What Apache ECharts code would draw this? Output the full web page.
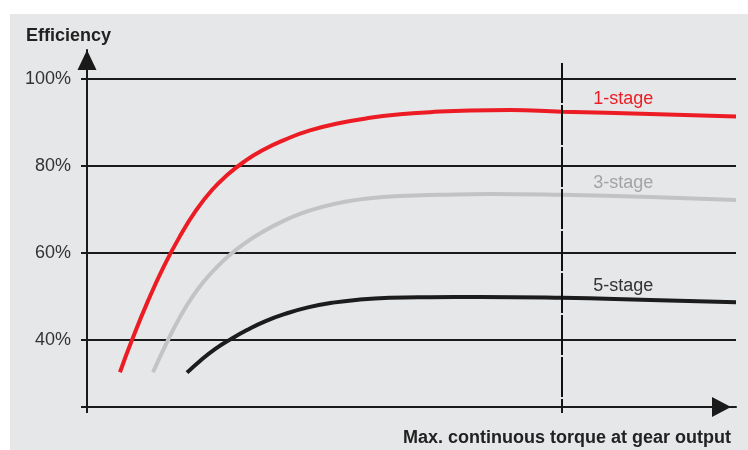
<!DOCTYPE html>
<html><head><meta charset="utf-8">
<script src="https://cdn.jsdelivr.net/npm/echarts@6/dist/echarts.min.js"></script>
<style>
html,body{margin:0;padding:0;background:#fff;}
#wrap{position:relative;width:748px;height:450px;overflow:hidden;}
#panel{position:absolute;left:10px;top:14px;width:738px;height:436px;background:#e6e7e9;}
#chart{position:absolute;left:0;top:0;width:748px;height:450px;}
</style></head><body>
<div id="wrap"><div id="panel"></div><div id="chart"></div></div>
<script>
// ---- data ----
const yTickValues = [40, 60, 80, 100];
const yMin = 24.6, yMax = 106.7;
const xMin = 0, xMax = 100;
const ratedTorque = 73.2;          // vertical reference line
const ratedTop = 103.7;
const seriesNames = ['1-stage', '3-stage', '5-stage'];
const stage1 = [[5.08,32.6],[6.93,40.0],[9.40,49.0],[11.86,57.0],[14.33,63.9],[16.80,69.8],[19.26,74.5],[21.73,78.1],[24.19,81.0],[26.96,83.6],[30.51,86.1],[34.36,88.2],[38.98,89.9],[43.61,91.1],[48.23,91.9],[52.85,92.4],[59.01,92.8],[65.18,92.9],[73.19,92.5],[86.75,92.0],[100,91.4]];
const stage3 = [[10.17,32.6],[12.48,40.0],[14.33,45.3],[16.18,49.8],[18.03,53.5],[20.03,56.8],[22.03,59.6],[24.35,62.3],[26.97,64.8],[29.74,67.0],[32.82,69.0],[36.21,70.6],[39.75,71.8],[43.61,72.6],[48.23,73.1],[54.39,73.4],[62.1,73.6],[73.19,73.4],[86.75,72.9],[100,72.2]];
const stage5 = [[15.41,32.5],[17.41,35.2],[19.72,37.9],[22.03,40.1],[24.65,42.3],[27.43,44.3],[30.51,46.0],[34.05,47.5],[37.9,48.6],[42.06,49.3],[46.69,49.7],[52.85,49.85],[60.55,49.9],[73.19,49.7],[86.75,49.2],[100,48.7]];
const labelPos = [[78, 95.4], [78, 76.1], [78, 52.4]];
const colors = ['#ec1c24', '#c2c3c5', '#1c1c1c'];
const labelColors = ['#ec1c24', '#a3a4a6', '#333333'];
// ---- chart ----
const FONT = "'Liberation Sans', Arial, Helvetica, sans-serif";
const chart = echarts.init(document.getElementById('chart'), null, {renderer: 'canvas'});
const datasets = [stage1, stage3, stage5];
const series = datasets.map((d, i) => ({
  name: seriesNames[i],
  type: 'line',
  data: d,
  smooth: 0.5,
  showSymbol: false,
  lineStyle: {color: colors[i], width: 4, cap: 'butt'},
  z: 3,
  markPoint: {
    symbol: 'circle', symbolSize: 0,
    data: [{coord: labelPos[i]}],
    label: {show: true, position: 'right', distance: 0, formatter: seriesNames[i],
      color: labelColors[i], fontSize: 18, fontFamily: FONT}
  }
}));
series.push({
  type: 'line', data: [], z: 5,
  markLine: {
    silent: true, symbol: 'none', label: {show: false},
    lineStyle: {color: '#111', width: 2, type: [40, 2]},
    data: [[{coord: [ratedTorque, ratedTop]}, {coord: [ratedTorque, yMin]}]]
  }
});
chart.setOption({
  backgroundColor: 'transparent',
  animation: false,
  grid: {left: 87, right: 12, top: 50, bottom: 43, containLabel: false},
  xAxis: {
    type: 'value', min: xMin, max: xMax,
    axisLine: {show: true, lineStyle: {color: '#1a1a1a', width: 2},
      symbol: ['none', 'triangle'], symbolSize: [20, 19], symbolOffset: [0, -14.5]},
    axisTick: {show: true, customValues: [xMin, ratedTorque], length: 6, lineStyle: {color: '#1a1a1a', width: 2}},
    axisLabel: {show: false},
    splitLine: {show: false}
  },
  yAxis: {
    type: 'value', min: yMin, max: yMax,
    axisLine: {show: true, lineStyle: {color: '#1a1a1a', width: 2},
      symbol: ['none', 'triangle'], symbolSize: [19, 20], symbolOffset: [0, -10]},
    axisTick: {show: true, customValues: [yMin].concat(yTickValues), length: 6, lineStyle: {color: '#1a1a1a', width: 2}},
    axisLabel: {show: true, customValues: yTickValues, formatter: '{value}%', margin: 16,
      color: '#333', fontSize: 18, fontFamily: FONT, padding: [6, 0, 0, 0]},
    splitLine: {show: true, lineStyle: {color: '#1a1a1a', width: 2}}
  },
  graphic: [
    {type: 'text', left: 26, top: 27, style: {text: 'Efficiency', fill: '#222', font: "bold 18px " + FONT}},
    {type: 'text', right: 17, top: 429, style: {text: 'Max. continuous torque at gear output', fill: '#222', font: "bold 18px " + FONT}}
  ],
  series: series
});
</script>
</body></html>
